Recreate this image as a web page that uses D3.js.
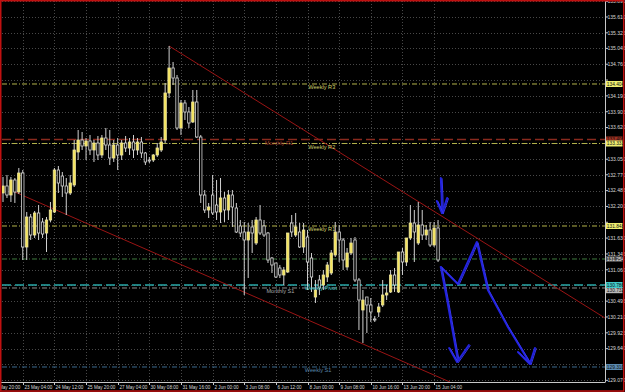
<!DOCTYPE html>
<html><head><meta charset="utf-8">
<script src="https://cdn.jsdelivr.net/npm/d3@7"></script>
<style>html,body{margin:0;padding:0;background:#000;overflow:hidden}svg{display:block}</style>
</head><body>
<svg id="c" width="625" height="392"></svg>
<script>
// ---- DATA ----
const open  = [132.442,132.568,132.406,132.676,132.460,132.802,131.470,132.010,131.686,132.082,131.920,131.722,131.956,132.100,132.856,132.748,132.568,132.442,132.586,133.180,
133.396,133.288,133.378,133.216,133.342,133.126,133.432,133.306,133.072,133.306,133.126,133.342,133.252,133.360,133.216,133.360,133.162,133.036,133.036,133.126,
133.216,133.396,134.242,134.692,134.512,133.612,134.062,133.900,133.720,134.080,133.450,132.406,132.136,132.406,132.226,132.100,132.352,132.136,132.406,132.172,
131.848,131.740,131.596,131.830,131.542,131.956,131.848,131.722,131.272,131.182,131.092,130.966,131.020,131.902,131.686,131.740,131.470,131.650,131.272,130.570,
130.876,130.786,130.930,131.002,131.326,131.740,131.596,131.110,131.362,131.596,130.876,130.336,130.570,130.426,130.174,130.300,130.426,130.606,130.660,130.966,
130.660,131.380,131.200,131.632,131.902,131.542,131.866,131.686,131.776,131.506,131.812];
const high  = [132.730,132.766,132.730,132.712,132.892,132.856,132.100,132.064,132.118,132.226,131.992,132.010,132.280,132.892,132.928,132.820,132.712,132.766,133.396,133.576,
133.540,133.432,133.486,133.396,133.468,133.486,133.612,133.576,133.396,133.432,133.396,133.468,133.432,133.486,133.432,133.450,133.180,133.090,133.144,133.342,
133.450,134.422,135.088,134.800,134.566,134.116,134.116,133.990,134.296,134.296,133.486,132.496,132.262,132.766,132.676,132.712,132.460,132.496,132.496,132.262,
131.956,131.920,131.902,131.956,132.010,132.226,131.956,131.740,131.290,131.182,131.146,131.110,131.722,132.046,132.082,131.902,131.902,131.776,131.362,130.876,
130.966,131.056,131.200,131.416,131.920,131.866,131.632,131.452,131.632,131.650,130.912,130.696,130.570,130.552,130.228,130.462,130.876,130.786,131.056,131.092,
131.380,131.452,131.632,132.226,132.136,132.280,132.136,131.866,131.920,131.920,131.956];
const low   = [132.280,132.352,132.280,132.262,132.424,131.236,131.236,131.596,131.632,131.596,131.632,131.380,131.920,132.082,132.442,132.370,132.046,132.406,132.550,133.036,
133.216,133.036,133.126,133.000,133.036,133.072,133.216,132.946,133.000,132.856,133.036,133.180,133.126,133.072,133.126,133.072,132.946,132.982,133.000,133.090,
133.180,133.342,134.152,134.386,133.576,133.486,133.756,133.612,133.702,133.432,132.262,132.082,131.992,132.046,131.956,131.902,131.920,131.956,131.830,131.722,
131.650,130.606,130.912,131.362,131.506,131.686,131.650,131.182,131.002,130.912,130.912,130.786,131.002,131.650,131.650,131.452,131.362,130.696,130.660,130.462,
130.606,130.696,130.840,130.966,131.290,131.200,131.056,131.056,131.326,130.840,129.976,129.742,129.922,130.120,130.120,130.210,130.390,130.516,130.642,130.660,
130.642,130.966,131.128,131.596,131.200,131.506,131.596,131.596,131.470,131.470,131.200];
const close = [132.568,132.406,132.676,132.460,132.802,131.470,132.010,131.686,132.082,131.722,131.704,131.956,132.136,132.856,132.622,132.568,132.442,132.622,133.216,133.396,
133.288,133.378,133.216,133.342,133.126,133.432,133.306,133.072,133.306,133.126,133.342,133.252,133.360,133.216,133.360,133.162,133.000,133.018,133.126,133.252,
133.360,134.242,134.692,134.512,133.612,134.062,133.900,133.702,134.080,133.450,132.406,132.136,132.190,132.082,132.100,132.352,132.136,132.406,132.190,131.740,
131.722,131.596,131.740,131.722,131.956,131.722,131.686,131.236,131.146,130.930,130.966,131.056,131.722,131.740,131.830,131.470,131.776,131.200,130.930,130.696,
130.732,130.966,131.146,131.362,131.740,131.596,131.236,131.362,131.542,130.876,130.516,130.516,130.426,130.300,130.156,130.390,130.606,130.642,130.966,130.786,
131.380,131.200,131.632,131.902,131.740,131.866,131.686,131.776,131.506,131.812,131.236];

const priceTicks = [135.890,135.610,135.325,135.045,134.760,134.475,134.190,133.905,133.620,133.335,133.050,132.770,132.485,132.200,131.915,131.630,131.345,131.060,130.780,130.495,130.210,129.925,129.640,129.355,129.070];
const timeLabels = ["22 May 20:00","23 May 04:00","24 May 12:00","25 May 20:00","27 May 04:00","30 May 08:00","31 May 16:00","2 Jun 00:00","3 Jun 08:00","6 Jun 12:00","8 Jun 00:00","9 Jun 08:00","10 Jun 16:00","13 Jun 20:00","15 Jun 04:00"];
const timeLabelBars = [-3,5,13,21,29,37,45,53,61,69,77,85,93,101,109];

const levelNames  = ["Weekly R3","Monthly R1","Weekly R2","Weekly R1","Daily","Monthly S1","Weekly Pivot","Weekly S1"];
const levelPrices = [134.404,133.405,133.333,131.848,131.254,130.732,130.786,129.310];

const upperTrend = [[42,135.088],[152.2,130.192]];
const lowerTrend = [[3,132.460],[113,129.040]];

const arrowDown   = [[110.7,132.712],[110.9,132.400],[111.0,132.082]];
const arrowDownHd = [[109.7,132.298],[111.0,132.082],[112.3,132.352]];
const zigzag      = [[110.7,131.110],[115.0,130.804],[119.8,131.560],[122.6,130.696],[127.5,130.050],[133.2,129.382]];
const zigzagHd    = [[130.2,129.580],[133.2,129.364],[134.5,129.652]];
const leftArrow   = [[110.7,131.110],[112.3,130.516],[115.0,129.436]];
const leftArrowHd = [[112.8,129.652],[114.8,129.400],[117.8,129.706]];

// ---- STYLES ----
const levelStyle = {
 "Weekly R3":{c:"#b4b44a",d:"5,2,1,2",w:1,label:true,lx:77.2,tc:"#cfcf6a",bg:"#eeee70"},
 "Monthly R1":{c:"#8a2a1e",d:"9,4",w:1.6,label:true,lx:66.2,tc:"#a03a2a",bg:"#a03020"},
 "Weekly R2":{c:"#b4b44a",d:"5,2,1,2",w:1,label:true,lx:77.2,tc:"#cfcf6a",bg:"#eeee70"},
 "Weekly R1":{c:"#b4b44a",d:"5,2,1,2",w:1,label:true,lx:77.2,tc:"#cfcf6a",bg:"#eeee70"},
 "Daily":{c:"#3f7a3f",d:"5,2,1,2",w:1,label:false,bg:"#4a4a4a",fc:"#e8e8e8"},
 "Weekly Pivot":{c:"#2aa8a8",d:"9,4",w:1.6,label:true,lx:76.3,tc:"#44c4c4",bg:"#40c8c8"},
 "Monthly S1":{c:"#8a8a8a",d:"5,2,1,2",w:1,label:true,lx:66.6,tc:"#a8a8a8",bg:"#b8b8b8",dy:2.2},
 "Weekly S1":{c:"#3c6a8e",d:"5,2,1,2",w:1,label:true,lx:76.3,tc:"#5a86aa",bg:"#5a8ab0"}
};

const svg = d3.select("#c");
const plotR = 605.5, plotB = 382;
const x = d3.scaleLinear().domain([0,110]).range([3,438.05]);
const y = d3.scaleLinear().domain([135.916,129.070]).range([0,380.33]);
const font = "Liberation Sans, Arial, sans-serif";

svg.append("rect").attr("width",625).attr("height",392).attr("fill","#000");
svg.append("defs").append("clipPath").attr("id","clip").append("rect")
  .attr("x",2).attr("y",1).attr("width",plotR-2).attr("height",plotB-1);

const plot = svg.append("g").attr("clip-path","url(#clip)");

// grid
plot.selectAll(".hg").data(priceTicks).join("line")
  .attr("x1",2).attr("x2",plotR).attr("y1",d=>Math.round(y(d))+0.5).attr("y2",d=>Math.round(y(d))+0.5)
  .attr("stroke","#484848").attr("stroke-dasharray","1,2");
plot.selectAll(".vg").data(timeLabelBars).join("line")
  .attr("y1",1).attr("y2",plotB).attr("x1",d=>Math.round(x(d))+0.5).attr("x2",d=>Math.round(x(d))+0.5)
  .attr("stroke","#484848").attr("stroke-dasharray","1,2");

// levels
levelNames.forEach((n,k)=>{
  const s = levelStyle[n], yy = y(levelPrices[k]);
  plot.append("line").attr("x1",2).attr("x2",plotR).attr("y1",yy).attr("y2",yy)
    .attr("stroke",s.c).attr("stroke-width",s.w).attr("stroke-dasharray",s.d);
});

// trend lines
const line = d3.line().x(d=>x(d[0])).y(d=>y(d[1]));
[upperTrend,lowerTrend].forEach(t=>plot.append("path").attr("d",line(t))
  .attr("fill","none").attr("stroke","#9a1414").attr("stroke-width",1));

// candles
const idx = d3.range(open.length);
const g = plot.append("g");
g.selectAll(".w").data(idx).join("line")
  .attr("x1",i=>x(i)).attr("x2",i=>x(i)).attr("y1",i=>y(high[i])).attr("y2",i=>y(low[i]))
  .attr("stroke","#d0d0d0").attr("stroke-width",1);
g.selectAll(".b").data(idx).join("rect")
  .attr("x",i=>x(i)-1.2).attr("width",2.4)
  .attr("y",i=>y(Math.max(open[i],close[i])))
  .attr("height",i=>Math.max(0.8,Math.abs(y(open[i])-y(close[i]))))
  .attr("fill",i=>close[i]>=open[i]?"#f4e45a":"#000")
  .attr("stroke",i=>close[i]>=open[i]?"#ece4a0":"#d8d8d8").attr("stroke-width",0.8);

// level labels
levelNames.forEach((n,k)=>{
  const s = levelStyle[n]; if(!s.label) return;
  plot.append("text").attr("x",x(s.lx)).attr("y",y(levelPrices[k])+5.3)
    .attr("fill",s.tc).attr("font-family",font).attr("font-size",5.6).text(n);
});

// blue arrows
const blue = plot.append("g").attr("fill","none").attr("stroke","#2222dd").attr("stroke-linecap","round").attr("stroke-linejoin","round");
[arrowDown,arrowDownHd,zigzag,zigzagHd,leftArrow,leftArrowHd].forEach(p=>{
  blue.append("path").attr("d",line(p)).attr("stroke-width",2);
  blue.append("path").attr("d",line(p)).attr("stroke-width",1).attr("transform","translate(1.3,0.7)").attr("stroke","#3535ee");
});

// axes
svg.append("line").attr("x1",plotR).attr("x2",plotR).attr("y1",0).attr("y2",plotB).attr("stroke","#c8c8c8");
svg.append("line").attr("x1",0).attr("x2",plotR).attr("y1",plotB+0.5).attr("y2",plotB+0.5).attr("stroke","#c8c8c8");
const ax = svg.append("g");
const hl = levelPrices.map(p=>y(p));
const visTicks = priceTicks.filter(d=>hl.every(h=>Math.abs(h-y(d))>4.5));
ax.selectAll(".pt").data(priceTicks).join("line").attr("x1",plotR).attr("x2",plotR+2.5)
  .attr("y1",d=>y(d)).attr("y2",d=>y(d)).attr("stroke","#c8c8c8");
ax.selectAll(".pl").data(visTicks).join("text").attr("x",607.5).attr("y",d=>y(d)+1.8)
  .attr("fill","#d8d8d8").attr("font-family",font).attr("font-size",5).text(d=>d.toFixed(3));
// highlighted level labels on axis
levelNames.forEach((n,k)=>{
  const s = levelStyle[n], yy = y(levelPrices[k]) + (s.dy||0);
  ax.append("rect").attr("x",606).attr("y",yy-3).attr("width",16.5).attr("height",6).attr("fill",s.bg);
  ax.append("text").attr("x",606.8).attr("y",yy+1.8).attr("fill",s.fc||"#111").attr("font-family",font)
    .attr("font-size",4.8).text(levelPrices[k].toFixed(3));
});
timeLabelBars.forEach((b,k)=>{
  const xx = Math.round(x(b))+0.5;
  ax.append("line").attr("x1",xx).attr("x2",xx).attr("y1",plotB).attr("y2",plotB+3).attr("stroke","#c8c8c8");
  ax.append("text").attr("x",xx+1).attr("y",389).attr("fill","#d8d8d8").attr("font-family",font)
    .attr("font-size",4.6).text(timeLabels[k]);
});

// red frame
svg.append("rect").attr("x",0.75).attr("y",0.75).attr("width",623).attr("height",390.3)
  .attr("fill","none").attr("stroke","#c01010").attr("stroke-width",1.5);
</script>
</body></html>
